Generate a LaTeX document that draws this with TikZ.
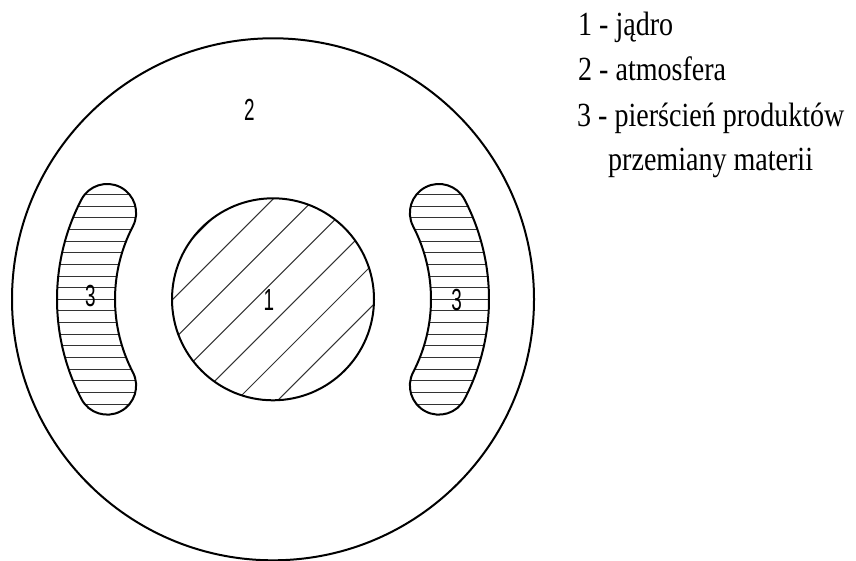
\documentclass[tikz,border=0pt]{standalone}
\usepackage{fontspec}
\newfontfamily\legendfont{Liberation Serif}[FakeStretch=0.83]
\newfontfamily\digitfont{Liberation Sans}[FakeStretch=0.62]
\begin{document}
\begin{tikzpicture}[x=1pt,y=-1pt,
  outline/.style={line width=2pt, black},
  hatch/.style={line width=1pt, black!80},
  digit/.style={inner sep=0pt, font=\fontsize{30.5}{30.5}\selectfont\digitfont},
  legend/.style={inner sep=0pt, anchor=base west, font=\fontsize{33.8}{40}\selectfont\legendfont}]
\useasboundingbox (0,0) rectangle (856,561);
\coordinate (C) at (273,299.3);

% atmosphere boundary
\draw[outline] (C) circle[radius=261];

% core with diagonal hatching
\begin{scope}
  \clip (C) circle[radius=101];
  \foreach \k in {-3,...,3} {
    \pgfmathsetmacro\s{(-17.7+41.2*\k)/2}
    \draw[hatch, shift={(C)}] (\s-150,\s+150) -- (\s+150,\s-150);
  }
\end{scope}
\draw[outline] (C) circle[radius=101];

% two crescent-shaped rings, horizontally hatched
\foreach \p in {0,180} {
  \begin{scope}
    \clip[shift={(C)}] (\p-27.5:216)
      arc[start angle=\p-27.5, end angle=\p+27.5, radius=216]
      arc[start angle=\p+27.5, end angle=\p+207.5, radius=29]
      arc[start angle=\p+27.5, end angle=\p-27.5, radius=158]
      arc[start angle=\p+152.5, end angle=\p+332.5, radius=29] -- cycle;
    \foreach \k in {-11,...,11}
      \draw[hatch] (20,299.3+11.65*\k) -- (530,299.3+11.65*\k);
  \end{scope}
  \draw[outline, shift={(C)}] (\p-27.5:216)
      arc[start angle=\p-27.5, end angle=\p+27.5, radius=216]
      arc[start angle=\p+27.5, end angle=\p+207.5, radius=29]
      arc[start angle=\p+27.5, end angle=\p-27.5, radius=158]
      arc[start angle=\p+152.5, end angle=\p+332.5, radius=29] -- cycle;
}

% region numbers
\node[digit] (lab2) at (249.5,110) {2};
\node[digit] (lab1) at (269,300) {1};
\node[digit] (lab3l) at (90.5,296) {3};
\node[digit] (lab3r) at (456.7,300) {3};

% legend
\node[legend] (leg1) at (578,36) {1 - jądro};
\node[legend] (leg2) at (578,81) {2 - atmosfera};
\node[legend] (leg3) at (577,126.5) {3 - pierścień produktów};
\node[legend] (leg3b) at (608,171) {przemiany materii};
\end{tikzpicture}
\end{document}
